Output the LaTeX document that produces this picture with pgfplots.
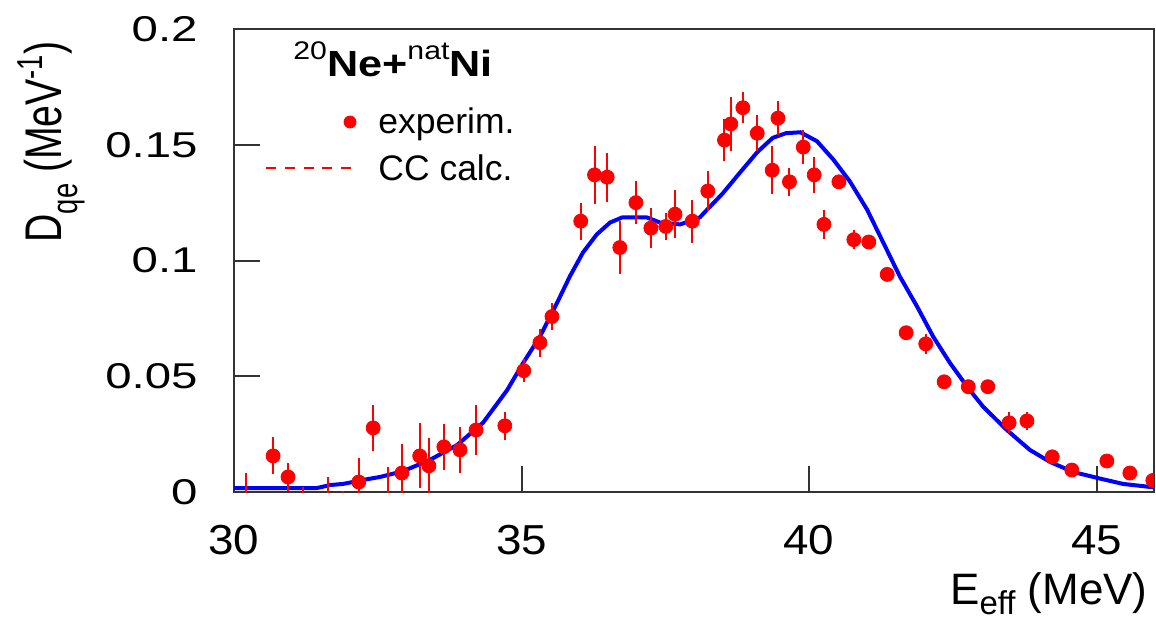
\documentclass[border=0pt]{standalone}
\usepackage{pgfplots}
\pgfplotsset{compat=1.18}
\usepackage{pgfplotstable}
\usepackage{fontspec}
\setmainfont{Liberation Sans}

\pgfplotstableread{
x y e
30.21 -0.004 0.012
30.68 0.0156 0.008
30.94 0.0065 0.006
31.20 -0.004 0.006
31.63 -0.004 0.0105
31.90 -0.004 0.0045
32.17 0.0043 0.0104
32.42 0.0277 0.010
32.68 -0.004 0.015
32.92 0.0082 0.0126
33.23 0.0156 0.014
33.39 0.0113 0.012
33.65 0.0195 0.010
33.93 0.0182 0.010
34.21 0.0268 0.011
34.71 0.0286 0.006
35.04 0.0524 0.005
35.32 0.0645 0.006
35.53 0.0758 0.006
36.03 0.117 0.008
36.27 0.137 0.0125
36.49 0.136 0.0106
36.71 0.1056 0.0115
36.99 0.125 0.0093
37.25 0.114 0.0085
37.51 0.1147 0.006
37.67 0.120 0.0104
37.97 0.117 0.0093
38.24 0.130 0.0085
38.53 0.152 0.009
38.64 0.159 0.0115
38.85 0.166 0.0068
39.10 0.155 0.0078
39.36 0.139 0.0104
39.46 0.1615 0.0074
39.66 0.134 0.006
39.90 0.149 0.0072
40.09 0.137 0.0078
40.26 0.1156 0.0063
40.52 0.134 0.003
40.78 0.109 0.004
41.04 0.108 0.002
41.36 0.094 0.002
41.69 0.0688 0.002
42.03 0.064 0.0043
42.35 0.0476 0.003
42.77 0.0455 0.002
43.11 0.0455 0.002
43.48 0.0299 0.0045
43.79 0.0307 0.004
44.23 0.0152 0.003
44.57 0.0095 0.002
45.18 0.0134 0.002
45.58 0.0082 0.002
45.98 0.005 0.002
}\expdata

\pgfplotstableread{
x y
30.00 0.0017
31.00 0.0017
31.44 0.0017
31.67 0.0030
31.90 0.0035
32.24 0.0052
32.54 0.0065
32.94 0.0090
33.41 0.0139
33.88 0.0203
34.33 0.0299
34.75 0.0440
35.03 0.0558
35.32 0.0671
35.62 0.0818
35.84 0.0931
36.07 0.1035
36.31 0.1113
36.54 0.1164
36.75 0.1186
37.18 0.1186
37.41 0.1164
37.76 0.1156
38.10 0.1186
38.23 0.1220
38.50 0.1290
38.80 0.1380
39.10 0.1468
39.37 0.1530
39.60 0.1550
39.85 0.1554
40.14 0.1515
40.42 0.1437
40.71 0.1342
41.01 0.1220
41.29 0.1078
41.58 0.0931
41.88 0.0801
42.16 0.0671
42.45 0.0558
42.75 0.0455
43.03 0.0368
43.44 0.0268
43.84 0.0182
44.19 0.0130
44.59 0.0087
45.01 0.0061
45.46 0.0035
45.93 0.0022
46.00 0.0020
}\calc

\begin{document}
\begin{tikzpicture}
\useasboundingbox (-117pt,-65.5pt) rectangle (461pt,246pt);
\begin{axis}[
  scale only axis, width=460pt, height=231.5pt,
  xmin=30, xmax=46, ymin=0, ymax=0.2,
  axis line style={black!80, line width=1pt},
  tick style={black!80, line width=1pt},
  major tick length=13pt,
  tick align=inside,
  xtick pos=bottom, ytick pos=left,
  minor tick num=0,
  xtick={30,35,40,45},
  xticklabels={\scalebox{1}[0.915]{30},\scalebox{1}[0.915]{35},\scalebox{1}[0.915]{40},\scalebox{1}[0.915]{45}},
  ytick={0,0.05,0.1,0.15,0.2},
  yticklabels={\scalebox{1}[0.756]{0},\scalebox{1}[0.756]{0.05},\scalebox{1}[0.756]{0.1},\scalebox{1}[0.756]{0.15},\scalebox{1}[0.756]{0.2}},
  xticklabel style={font=\fontsize{22.9}{23}\selectfont, inner sep=0pt, yshift=-16.5pt},
  yticklabel style={font=\fontsize{23.7}{24}\selectfont, inner sep=0pt, xshift=-18pt},
  clip marker paths=true,
  xlabel={\fontsize{22}{22}\selectfont E\raisebox{-5pt}{\fontsize{16.5}{17}\selectfont eff} (MeV)},
  xlabel style={at={(axis description cs:0.9935,-0.2430)}, anchor=base east, inner sep=0pt},
  ylabel={\scalebox{0.76}[1]{\fontsize{25.8}{26}\selectfont D\raisebox{-8pt}{\fontsize{18}{18}\selectfont qe} (MeV\raisebox{9.5pt}{\fontsize{18}{18}\selectfont -1})}},
  ylabel style={at={(axis description cs:-0.187,0.538)}, anchor=base west, inner sep=0pt},
  legend style={at={(axis description cs:0.0337,0.8315)}, anchor=north west,
    draw=none, fill=none, inner sep=0pt, outer sep=0pt,
    column sep=11pt, row sep=0pt,
    font=\fontsize{17.75}{18}\selectfont,
    nodes={inner sep=0pt, text height=13pt, text depth=10.5pt},
    cells={anchor=base west}},
]
\addlegendimage{legend image code/.code={\fill[red] (42pt,5.5pt) circle (3pt);}}
\addlegendentry{experim.}
\addlegendimage{legend image code/.code={\draw[red, line width=1pt, dash pattern=on 5pt off 4.375pt] (0pt,6pt) -- (42.5pt,6pt);}}
\addlegendentry{CC calc.}

\addplot[blue, line width=2pt, forget plot] table[x=x, y=y] {\calc};

\addplot[only marks, mark=*, mark size=3.5pt, red, mark options={fill=red, draw=red},
  error bars/.cd, y dir=both, y explicit, error mark=none,
  error bar style={red, line width=1pt}]
  table[x=x, y=y, y error=e] {\expdata};

\node[anchor=base west, inner sep=0pt] at (axis description cs:0.0641,0.8985)
  {\scalebox{1.08}[0.91]{\fontsize{20}{20}\selectfont\raisebox{8.8pt}{\fontsize{14}{14}\selectfont 20}\textbf{Ne+}\raisebox{8.8pt}{\fontsize{14}{14}\selectfont nat}\textbf{Ni}}};
\end{axis}
\end{tikzpicture}
\end{document}
